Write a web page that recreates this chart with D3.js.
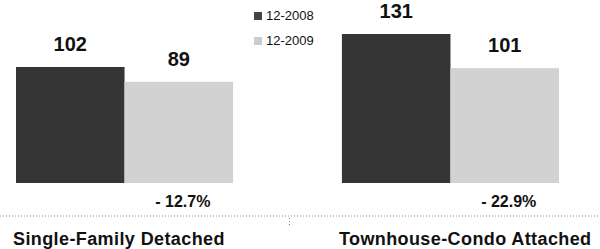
<!DOCTYPE html>
<html>
<head>
<meta charset="utf-8">
<script src="https://cdn.jsdelivr.net/npm/d3@7"></script>
<style>
  body { margin: 0; background: #fff; }
  text { font-family: "Liberation Sans", Arial, sans-serif; fill: #111; }
</style>
</head>
<body>
<div id="chart"></div>
<script>
// data
const categories = ["Single-Family Detached", "Townhouse-Condo Attached"];
const seriesNames = ["12-2008", "12-2009"];
const values2008 = [102, 131];
const values2009 = [89, 101];
const changeLabels = ["- 12.7%", "- 22.9%"];

const colors = ["#353535", "#d2d2d2"];

//create canvas
const svg = d3.select("#chart")
    .append("svg")
    .attr("width", 600)
    .attr("height", 249);

const rows = categories.map((c, i) => ({
    cat: c,
    vals: [values2008[i], values2009[i]],
    change: changeLabels[i]
}));

const x0 = d3.scaleBand()
    .domain(categories)
    .range([16, 559])
    .paddingInner(0.334);

const x1 = d3.scaleBand()
    .domain(seriesNames)
    .range([0, x0.bandwidth()]);

const y = d3.scaleLinear()
    .domain([0, 131])
    .range([183, 34]);

// dotted baseline
svg.append("line")
    .attr("x1", 0)
    .attr("x2", 600)
    .attr("y1", 216)
    .attr("y2", 216)
    .attr("stroke", "#8a8a8a")
    .attr("stroke-width", 1)
    .attr("stroke-dasharray", "1,2");

svg.append("line")
    .attr("x1", 289.5)
    .attr("x2", 289.5)
    .attr("y1", 218)
    .attr("y2", 225)
    .attr("stroke", "#777")
    .attr("stroke-dasharray", "1,2");

const groups = svg.selectAll("g.group")
    .data(rows)
    .enter()
    .append("g")
    .attr("class", "group")
    .attr("transform", d => "translate(" + x0(d.cat) + ",0)");

groups.selectAll("rect")
    .data(d => d.vals.map((v, i) => ({ key: seriesNames[i], v: v, i: i })))
    .enter()
    .append("rect")
    .attr("x", d => x1(d.key))
    .attr("y", d => y(d.v))
    .attr("width", x1.bandwidth())
    .attr("height", d => y(0) - y(d.v))
    .attr("fill", d => colors[d.i]);

// value labels
groups.selectAll("text.val")
    .data(d => d.vals.map((v, i) => ({ key: seriesNames[i], v: v })))
    .enter()
    .append("text")
    .attr("class", "val")
    .attr("x", d => x1(d.key) + x1.bandwidth() / 2)
    .attr("y", d => y(d.v) - 16)
    .attr("text-anchor", "middle")
    .attr("font-size", "20px")
    .attr("font-weight", "bold")
    .text(d => d.v);

// change labels
groups.append("text")
    .attr("x", x1(seriesNames[1]) + x1.bandwidth() / 2 + 4)
    .attr("y", 207)
    .attr("text-anchor", "middle")
    .attr("font-size", "16px")
    .attr("font-weight", "bold")
    .text(d => d.change);

// category labels
groups.append("text")
    .attr("x", -3)
    .attr("y", 245)
    .attr("font-size", "18px")
    .attr("font-weight", "bold")
    .attr("letter-spacing", "0.4px")
    .text(d => d.cat);

// legend
const legend = svg.append("g")
    .attr("transform", "translate(254,0)");

legend.selectAll("rect")
    .data(seriesNames)
    .enter()
    .append("rect")
    .attr("x", 0)
    .attr("y", (d, i) => 12 + i * 25)
    .attr("width", 8)
    .attr("height", 8)
    .attr("fill", (d, i) => i === 0 ? "#444" : "#ccc");

legend.selectAll("text")
    .data(seriesNames)
    .enter()
    .append("text")
    .attr("x", 12)
    .attr("y", (d, i) => 20 + i * 25)
    .attr("font-size", "13px")
    .attr("fill", "#222")
    .text(d => d);
</script>
</body>
</html>
